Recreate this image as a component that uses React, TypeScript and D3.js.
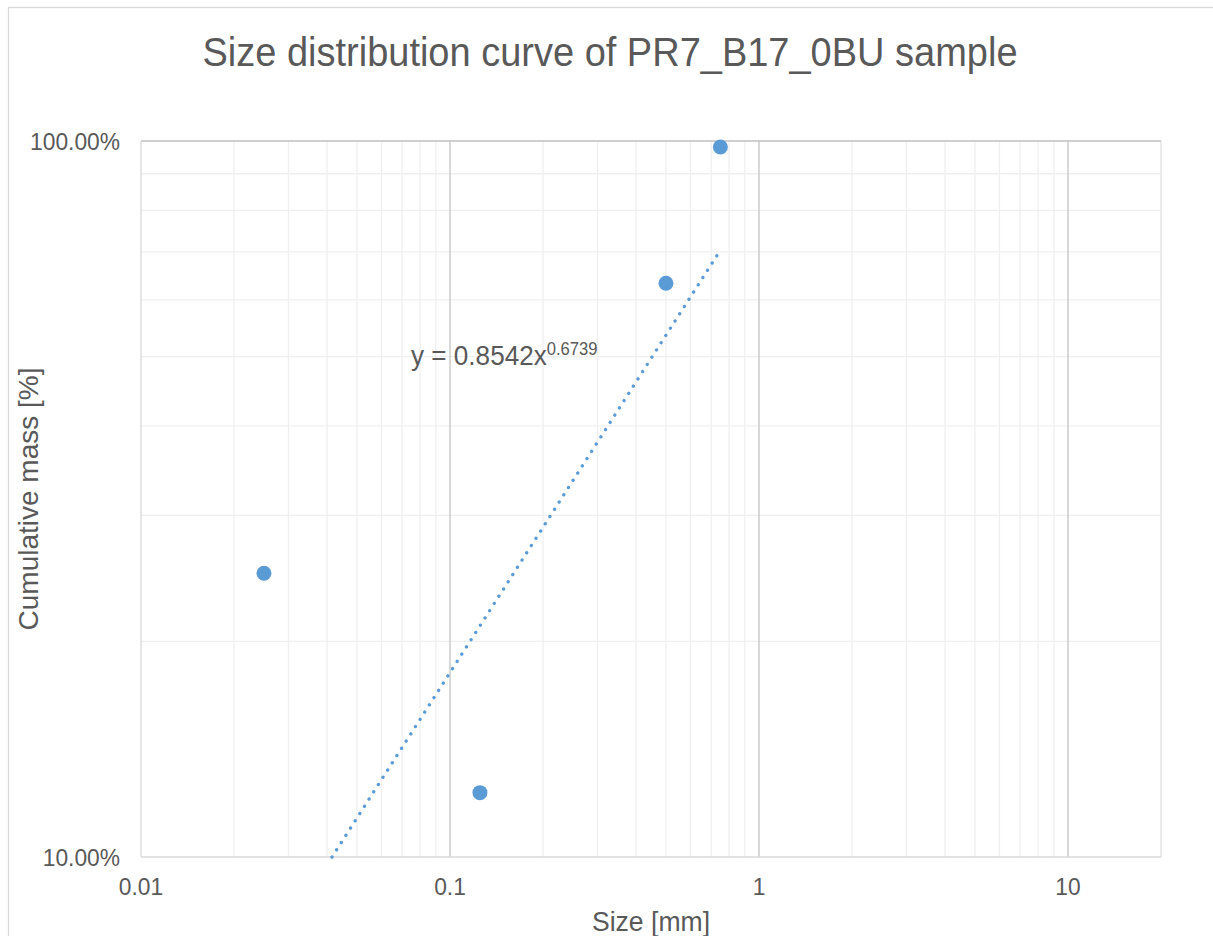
import React, { useEffect, useRef } from 'react';
import * as d3 from 'd3';

// measured sample points (size in mm, cumulative mass as fraction)
const sizes = [0.025, 0.125, 0.5, 0.75];
const cumulative = [0.249, 0.123, 0.633, 0.981];

// power trendline ends
const trendSizes = [0.0415, 0.75];
const trendValues = [0.1, 0.704];

const xTicks = [0.01, 0.1, 1, 10];
const xTickLabels = ['0.01', '0.1', '1', '10'];
const yTicks = [0.1, 1];
const yTickLabels = ['10.00%', '100.00%'];

const title = 'Size distribution curve of PR7_B17_0BU sample';
const equation = 'y = 0.8542x';
const exponent = '0.6739';

const App = () => {
  const ref = useRef<SVGSVGElement>(null);

  useEffect(() => {
    const W = 1213;
    const H = 936;
    const left = 141, right = 1161, top = 141, bottom = 857;
    const textColor = '#595959';
    const font = '"Liberation Sans", Arial, sans-serif';
    const sx = 0.95; // horizontal squeeze of the text

    const svg = d3.select(ref.current);
    svg.selectAll('*').remove();
    svg.attr('width', W).attr('height', H);

    svg.append('rect').attr('width', W).attr('height', H).attr('fill', '#fff');

    // chart area border (runs off the right/bottom edges)
    svg.append('rect')
      .attr('x', 8.5).attr('y', 7.5)
      .attr('width', 1300).attr('height', 1100)
      .attr('fill', 'none').attr('stroke', '#d9d9d9').attr('stroke-width', 1.3);

    const x = d3.scaleLog().domain([0.01, 20]).range([left, right]);
    const y = d3.scaleLog().domain([0.1, 1]).range([bottom, top]);

    // minor gridlines
    const xMinor = x.ticks().filter(v => !xTicks.includes(v));
    const yMinor = y.ticks().filter(v => !yTicks.some(t => Math.abs(t - v) < 1e-9));

    svg.append('g').selectAll('line').data(xMinor).enter().append('line')
      .attr('x1', d => x(d)).attr('x2', d => x(d))
      .attr('y1', top).attr('y2', bottom)
      .attr('stroke', '#efefef').attr('stroke-width', 1.3);
    svg.append('line')
      .attr('x1', right).attr('x2', right).attr('y1', top).attr('y2', bottom)
      .attr('stroke', '#e6e6e6').attr('stroke-width', 1.3);
    svg.append('g').selectAll('line').data(yMinor).enter().append('line')
      .attr('x1', left).attr('x2', right)
      .attr('y1', d => y(d)).attr('y2', d => y(d))
      .attr('stroke', '#efefef').attr('stroke-width', 1.3);

    // major gridlines
    svg.append('g').selectAll('line').data(xTicks.slice(1)).enter().append('line')
      .attr('x1', d => x(d)).attr('x2', d => x(d))
      .attr('y1', top).attr('y2', bottom)
      .attr('stroke', '#c4c4c4').attr('stroke-width', 1.3);
    svg.append('line')
      .attr('x1', left).attr('x2', right).attr('y1', y(1)).attr('y2', y(1))
      .attr('stroke', '#bfbfbf').attr('stroke-width', 1.5);

    // axis lines
    svg.append('line')
      .attr('x1', left).attr('x2', left).attr('y1', top).attr('y2', bottom)
      .attr('stroke', '#d9d9d9').attr('stroke-width', 1.3);
    svg.append('line')
      .attr('x1', left).attr('x2', right).attr('y1', bottom).attr('y2', bottom)
      .attr('stroke', '#d9d9d9').attr('stroke-width', 1.5);

    // tick labels
    const txt = (px: number, py: number, s: string, size: number, anchor: string) =>
      svg.append('text')
        .attr('transform', `translate(${px},${py}) scale(${sx},1)`)
        .attr('text-anchor', anchor)
        .attr('font-family', font).attr('font-size', size)
        .attr('fill', textColor).text(s);

    xTicks.forEach((t, i) => txt(x(t), 895, xTickLabels[i], 24, 'middle'));
    yTicks.forEach((t, i) => txt(120, y(t) + 8.5, yTickLabels[i], 24, 'end'));

    // title and axis titles
    txt(610, 66, title, 40, 'middle');
    txt((left + right) / 2, 931, 'Size [mm]', 28, 'middle');
    svg.append('text')
      .attr('transform', `translate(38,${(top + bottom) / 2}) rotate(-90)`)
      .attr('text-anchor', 'middle')
      .attr('font-family', font).attr('font-size', 28)
      .attr('fill', textColor).text('Cumulative mass [%]');

    // trendline
    const line = d3.line<number>()
      .x((d, i) => x(trendSizes[i]))
      .y(d => y(d));
    svg.append('path')
      .attr('d', line(trendValues))
      .attr('fill', 'none')
      .attr('stroke', '#5b9bd5').attr('stroke-width', 3.3)
      .attr('stroke-linecap', 'round')
      .attr('stroke-dasharray', '0.1 8.5');

    // equation label
    const eq = svg.append('text')
      .attr('transform', `translate(411,365) scale(${sx},1)`)
      .attr('font-family', font).attr('font-size', 27.5)
      .attr('fill', textColor);
    eq.append('tspan').text(equation);
    eq.append('tspan').attr('font-size', 17.5).attr('dy', -10).text(exponent);

    // data points
    svg.append('g').selectAll('circle').data(sizes).enter().append('circle')
      .attr('cx', d => x(d))
      .attr('cy', (d, i) => y(cumulative[i]))
      .attr('r', 7.5)
      .attr('fill', '#5b9bd5');
  }, []);

  return (
    <svg ref={ref} style={{ position: 'absolute', left: 0, top: 0 }} />
  );
};

export default App;
